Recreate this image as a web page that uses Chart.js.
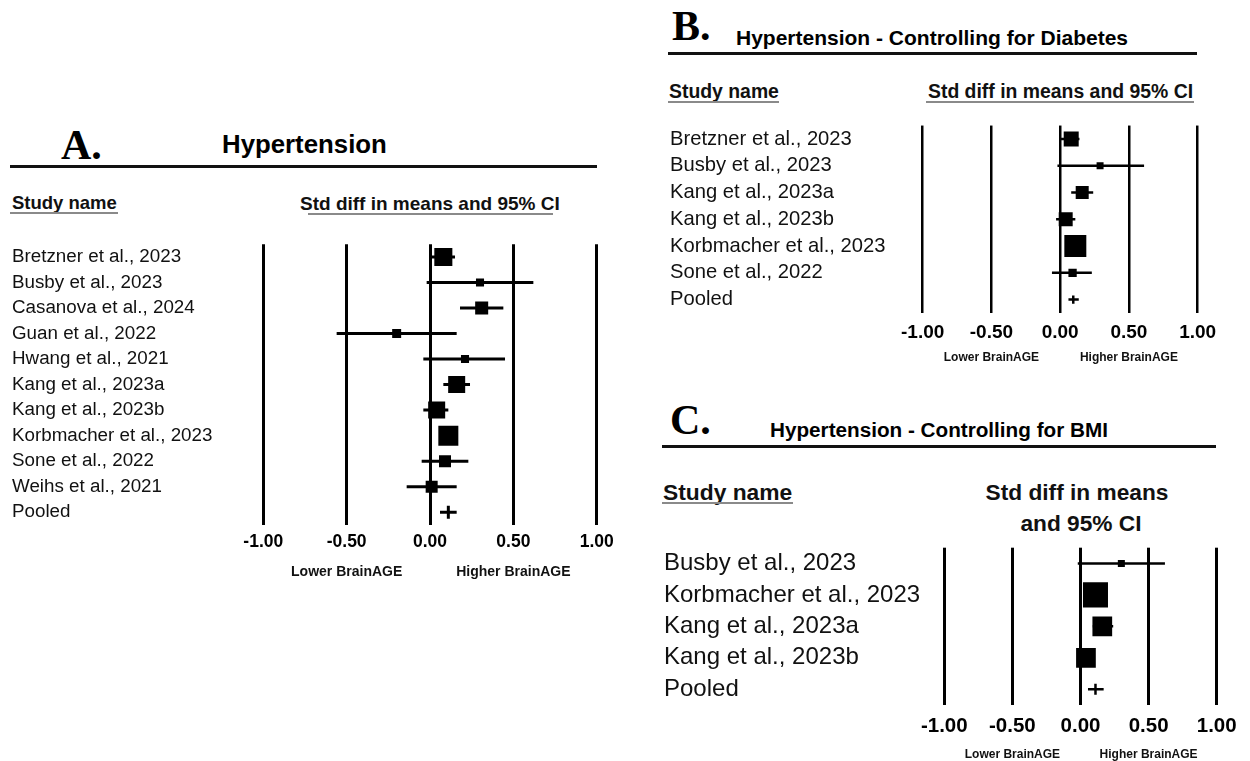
<!DOCTYPE html>
<html>
<head>
<meta charset="utf-8">
<script src="https://cdn.jsdelivr.net/npm/chart.js@4/dist/chart.umd.min.js"></script>
<style>
  html, body { margin: 0; padding: 0; background: #fff; }
  body { width: 1250px; height: 761px; position: relative; overflow: hidden;
         font-family: "Liberation Sans", Arial, sans-serif; color: #111; }
  canvas { position: absolute; }
  .t { position: absolute; white-space: nowrap; line-height: 1; transform: translateY(-50%); font-weight: bold; }
  .c { transform: translate(-50%, -50%); }
  .letter { font-family: "Liberation Serif", "Times New Roman", serif; font-size: 42px; color: #000; }
  .rule { position: absolute; background: #111; height: 3px; }
  .ul { position: absolute; background: #8a8a8a; height: 2px; }
</style>
</head>
<body>

<!-- Panel A headings -->
<div class="t letter" style="left:61px;top:145px">A.</div>
<div class="t" style="left:222px;top:145px;font-size:25.8px;color:#000">Hypertension</div>
<div class="rule" style="left:10px;top:165px;width:587px"></div>
<div class="t" style="left:12px;top:203px;font-size:18.5px">Study name</div>
<div class="ul" style="left:10px;top:212px;width:108px"></div>
<div class="t" style="left:300px;top:203px;font-size:19px">Std diff in means and 95% CI</div>
<div class="ul" style="left:308px;top:213px;width:245px"></div>
<canvas id="chartA" width="625" height="355" style="left:0;top:230px"></canvas>

<!-- Panel B headings -->
<div class="t letter" style="left:672px;top:26px">B.</div>
<div class="t" style="left:736px;top:37px;font-size:21px;color:#000">Hypertension - Controlling for Diabetes</div>
<div class="rule" style="left:668px;top:52px;width:529px"></div>
<div class="t" style="left:669px;top:92px;font-size:19.4px">Study name</div>
<div class="ul" style="left:668px;top:101px;width:111px"></div>
<div class="t" style="left:928px;top:92px;font-size:19.4px">Std diff in means and 95% CI</div>
<div class="ul" style="left:926px;top:101px;width:268px"></div>
<canvas id="chartB" width="600" height="259" style="left:650px;top:110px"></canvas>

<!-- Panel C headings -->
<div class="t letter" style="left:670px;top:420px">C.</div>
<div class="t" style="left:770px;top:430px;font-size:20.7px;color:#000">Hypertension - Controlling for BMI</div>
<div class="rule" style="left:662px;top:445px;width:554px"></div>
<div class="t" style="left:663px;top:492px;font-size:22.8px">Study name</div>
<div class="ul" style="left:662px;top:502px;width:131px"></div>
<div class="t c" style="left:1077px;top:492px;font-size:22.7px">Std diff in means</div>
<div class="t c" style="left:1081px;top:523px;font-size:22.7px">and 95% CI</div>
<canvas id="chartC" width="605" height="231" style="left:645px;top:530px"></canvas>

<script>
// ---- A. Hypertension ----
const studiesA = ['Bretzner et al., 2023', 'Busby et al., 2023', 'Casanova et al., 2024', 'Guan et al., 2022',
                  'Hwang et al., 2021', 'Kang et al., 2023a', 'Kang et al., 2023b', 'Korbmacher et al., 2023',
                  'Sone et al., 2022', 'Weihs et al., 2021'];
const smdA    = [0.08, 0.30, 0.31, -0.20, 0.21, 0.16, 0.04, 0.11, 0.09, 0.01];
const lowerA  = [0.01, -0.02, 0.18, -0.56, -0.04, 0.08, -0.04, 0.07, -0.05, -0.14];
const upperA  = [0.15, 0.62, 0.44, 0.16, 0.45, 0.24, 0.11, 0.15, 0.23, 0.16];
const weightA = [16.5, 3.3, 8.6, 4.1, 3.3, 14.7, 14.7, 20.3, 7.3, 7.3];   // relative weight, %
const pooledA = [0.11, 0.06, 0.16];                                        // estimate, lower, upper

// ---- B. Hypertension - Controlling for Diabetes ----
const studiesB = ['Bretzner et al., 2023', 'Busby et al., 2023', 'Kang et al., 2023a', 'Kang et al., 2023b',
                  'Korbmacher et al., 2023', 'Sone et al., 2022'];
const smdB    = [0.08, 0.29, 0.16, 0.04, 0.11, 0.09];
const lowerB  = [0.00, -0.02, 0.08, -0.03, 0.07, -0.06];
const upperB  = [0.14, 0.61, 0.24, 0.11, 0.15, 0.23];
const weightB = [18.9, 4.1, 14.2, 16.4, 40.6, 5.8];
const pooledB = [0.095, 0.06, 0.135];

// ---- C. Hypertension - Controlling for BMI ----
const studiesC = ['Busby et al., 2023', 'Korbmacher et al., 2023', 'Kang et al., 2023a', 'Kang et al., 2023b'];
const smdC    = [0.30, 0.11, 0.16, 0.04];
const lowerC  = [-0.02, 0.07, 0.09, -0.01];
const upperC  = [0.62, 0.16, 0.24, 0.09];
const weightC = [3.4, 43.1, 26.8, 26.8];
const pooledC = [0.11, 0.055, 0.17];

// shared axis text
const xTickValues = [-1, -0.5, 0, 0.5, 1];
const effectSides = ['Lower BrainAGE', 'Higher BrainAGE'];
const effectSideAt = [-0.5, 0.5];

const FONT = '"Liberation Sans", Arial, sans-serif';

// writes "Lower / Higher BrainAGE" under the axis, centred on the ±0.50 ticks
const sideLabelPlugin = {
  id: 'sideLabels',
  afterDraw(chart, args, opts) {
    const { ctx, chartArea } = chart;
    const x = chart.scales.x;
    ctx.save();
    ctx.font = `bold ${opts.size}px ${FONT}`;
    ctx.fillStyle = '#111';
    ctx.textAlign = 'center';
    ctx.textBaseline = 'middle';
    effectSides.forEach((txt, i) => {
      ctx.fillText(txt, x.getPixelForValue(effectSideAt[i]), chartArea.bottom + opts.offset);
    });
    ctx.restore();
  }
};

function forestPlot(id, p) {
  const rows = p.studies.concat(['Pooled']);
  const lo = p.lower.concat([p.pooled[1]]);
  const hi = p.upper.concat([p.pooled[2]]);

  const squares = {
    data: p.studies.map((name, i) => ({ x: p.smd[i], y: name })),
    pointStyle: 'rect',
    pointRadius: p.weight.map(w => p.boxScale * Math.sqrt(w) / Math.SQRT2),
    pointBackgroundColor: '#000',
    pointBorderWidth: 0
  };
  const pooledTick = {
    data: [{ x: p.pooled[0], y: 'Pooled' }],
    pointStyle: 'line',
    pointRotation: 90,
    pointRadius: p.tickHalf,
    pointBorderColor: '#000',
    pointBorderWidth: p.ciWidth
  };
  const whiskers = rows.map((name, i) => ({
    showLine: true,
    data: [{ x: lo[i], y: name }, { x: hi[i], y: name }],
    borderColor: '#000',
    borderWidth: p.ciWidth,
    pointRadius: 0
  }));

  return new Chart(document.getElementById(id), {
    type: 'scatter',
    data: { datasets: [squares, pooledTick].concat(whiskers) },
    plugins: [sideLabelPlugin],
    options: {
      responsive: false,
      animation: false,
      devicePixelRatio: 1,
      events: [],
      layout: { padding: p.padding },
      plugins: {
        legend: { display: false },
        tooltip: { enabled: false },
        sideLabels: { size: p.sideSize, offset: p.sideOffset }
      },
      scales: {
        x: {
          type: 'linear', min: -1, max: 1,
          afterBuildTicks: s => { s.ticks = xTickValues.map(v => ({ value: v })); },
          afterFit: s => { s.height = p.xHeight; },
          grid: { color: '#000', lineWidth: p.gridWidth, drawTicks: false },
          border: { display: false },
          ticks: {
            autoSkip: false, maxRotation: 0, padding: p.tickPad, color: '#000',
            font: { family: FONT, size: p.tickSize, weight: 'bold' },
            callback: v => v.toFixed(2)
          }
        },
        y: {
          type: 'category', labels: rows, offset: true,
          afterFit: s => { s.width = p.yWidth; },
          grid: { display: false },
          border: { display: false },
          ticks: {
            autoSkip: false, crossAlign: 'far', padding: 0, color: '#111',
            font: { family: FONT, size: p.nameSize }
          }
        }
      }
    }
  });
}

forestPlot('chartA', {
  studies: studiesA, smd: smdA, lower: lowerA, upper: upperA, weight: weightA, pooled: pooledA,
  boxScale: 4.44, tickHalf: 6.5, ciWidth: 3, gridWidth: 3,
  padding: { left: 12, top: 13, right: 28.3, bottom: 0 }, yWidth: 251.3, xHeight: 60,
  tickPad: 7, tickSize: 17.5, nameSize: 18.8, sideSize: 14, sideOffset: 47
});

forestPlot('chartB', {
  studies: studiesB, smd: smdB, lower: lowerB, upper: upperB, weight: weightB, pooled: pooledB,
  boxScale: 3.45, tickHalf: 4.2, ciWidth: 2.5, gridWidth: 2.5,
  padding: { left: 20, top: 15, right: 52.3, bottom: 0 }, yWidth: 252.7, xHeight: 56,
  tickPad: 8.6, tickSize: 19, nameSize: 20.2, sideSize: 12, sideOffset: 45
});

forestPlot('chartC', {
  studies: studiesC, smd: smdC, lower: lowerC, upper: upperC, weight: weightC, pooled: pooledC,
  boxScale: 3.81, tickHalf: 5.5, ciWidth: 2.5, gridWidth: 3,
  padding: { left: 19, top: 17, right: 33.3, bottom: 0 }, yWidth: 280.3, xHeight: 56,
  tickPad: 9.5, tickSize: 20.5, nameSize: 24, sideSize: 12, sideOffset: 50
});
</script>
</body>
</html>
